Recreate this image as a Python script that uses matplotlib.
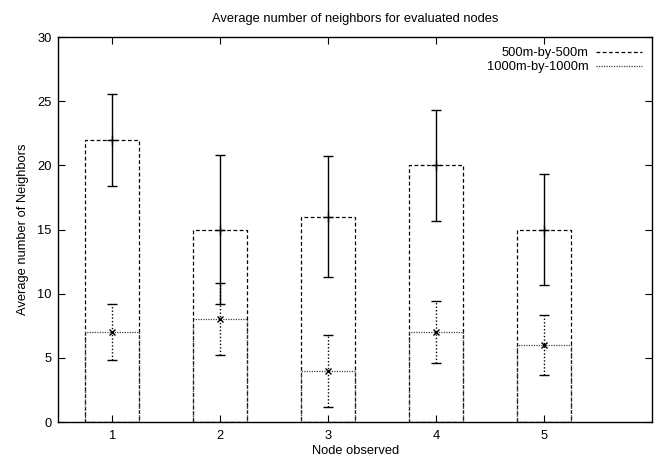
import matplotlib
matplotlib.use("Agg")
import matplotlib.pyplot as plt
from matplotlib.lines import Line2D

plt.rcParams['font.family'] = ['Liberation Sans', 'DejaVu Sans']

nodes = [1, 2, 3, 4, 5]
small_vals = [22, 15, 16, 20, 15]
small_err = [3.6, 5.8, 4.7, 4.3, 4.3]
large_vals = [7, 8, 4, 7, 6]
large_err = [2.2, 2.8, 2.8, 2.4, 2.3]
labels = ['500m-by-500m', '1000m-by-1000m']

fig = plt.figure(figsize=(6.55, 4.59), dpi=100)
ax = fig.add_axes([0.0893, 0.0806, 0.906, 0.8387])

ax.bar(nodes, small_vals, width=0.5, fill=False, edgecolor='black',
       linestyle=(0, (3, 2)), linewidth=0.9)
ax.bar(nodes, large_vals, width=0.5, fill=False, edgecolor='#444444',
       linestyle=(0, (1, 1)), linewidth=0.9)

eb1 = ax.errorbar(nodes, small_vals, yerr=small_err, fmt='+', color='black',
                  ecolor='black', elinewidth=1.0, capsize=3.5, capthick=1.0,
                  markersize=7, markeredgewidth=1.0)
eb2 = ax.errorbar(nodes, large_vals, yerr=large_err, fmt='x', color='black',
                  ecolor='black', elinewidth=1.0, capsize=3.5, capthick=1.0,
                  markersize=5, markeredgewidth=1.0)
for c in eb2[2]:
    c.set_linestyle((0, (1, 1.5)))

ax.set_xlim(0.5, 6.0)
ax.set_ylim(0, 30)
ax.set_xticks(nodes)
ax.set_yticks([0, 5, 10, 15, 20, 25, 30])
ax.tick_params(direction='in', top=True, right=True, length=5, width=0.8,
               labelsize=9.3)
ax.tick_params(axis='x', pad=6)
ax.tick_params(axis='y', pad=5)
for s in ax.spines.values():
    s.set_linewidth(1.0)

ax.set_title('Average number of neighbors for evaluated nodes', fontsize=9.3, pad=11)
ax.set_xlabel('Node observed', fontsize=9.3, labelpad=2)
ax.set_ylabel('Average number of Neighbors', fontsize=9.3, labelpad=6)

handles = [Line2D([], [], color='black', linestyle=(0, (3, 2)), linewidth=0.9),
           Line2D([], [], color='#444444', linestyle=(0, (1, 1)), linewidth=0.9)]
ax.legend(handles, labels, loc='upper right', frameon=False, markerfirst=False,
          fontsize=9.3, handlelength=3.5, labelspacing=0.15, borderaxespad=0.4,
          handletextpad=0.6)

fig.savefig('out.png', dpi=100)
